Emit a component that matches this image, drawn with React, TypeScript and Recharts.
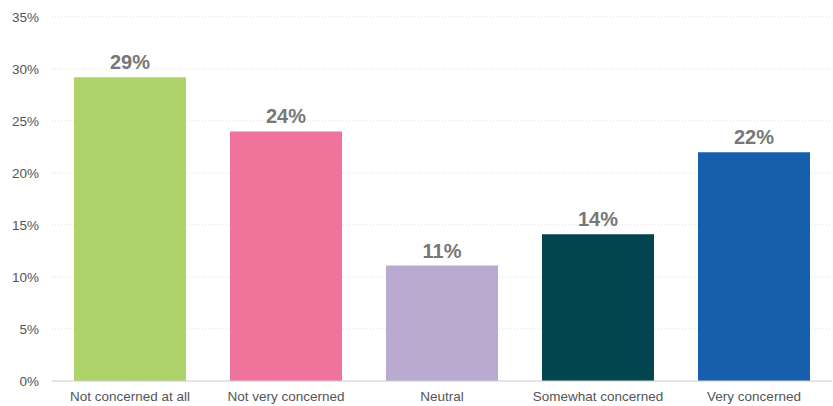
import { BarChart, Bar, XAxis, YAxis, CartesianGrid, Cell, LabelList } from "recharts";

const categories = ["Not concerned at all", "Not very concerned", "Neutral", "Somewhat concerned", "Very concerned"];
const shares = [29.2, 24, 11.1, 14.1, 22];
const colors = ["#afd36b", "#f0739c", "#baaad2", "#02444f", "#165fac"];
const yTicks = [0, 5, 10, 15, 20, 25, 30, 35];

const data = categories.map((name, i) => ({ name, value: shares[i] }));

export default function App() {
  return (
    <div style={{ position: "absolute", left: 0, top: 0, background: "#fff" }}>
      <BarChart
        width={833}
        height={406}
        data={data}
        margin={{ top: 17, right: 1, bottom: 0, left: 0 }}
        barSize={112}
        style={{ fontFamily: "'Liberation Sans', Arial, sans-serif" }}
      >
        <CartesianGrid vertical={false} stroke="#dcdcdc" strokeDasharray="1 2" />
        <XAxis
          dataKey="name"
          height={25}
          tickLine={false}
          axisLine={{ stroke: "#d0d0d0" }}
          tick={{ fontSize: 13.5, fill: "#555" }}
          tickSize={0}
          tickMargin={10}
          interval={0}
        />
        <YAxis
          width={52}
          domain={[0, 35]}
          ticks={yTicks}
          tickFormatter={(v: number) => `${v}%`}
          axisLine={false}
          tickLine={false}
          tick={{ fontSize: 13.5, fill: "#555" }}
          tickSize={0}
          tickMargin={13}
        />
        <Bar dataKey="value" isAnimationActive={false}>
          {data.map((d, i) => (
            <Cell key={d.name} fill={colors[i]} />
          ))}
          <LabelList
            dataKey="value"
            position="top"
            offset={8}
            formatter={(v: number) => `${Math.round(v)}%`}
            style={{ fontSize: 20, fontWeight: 700, fill: "#777" }}
          />
        </Bar>
      </BarChart>
    </div>
  );
}
